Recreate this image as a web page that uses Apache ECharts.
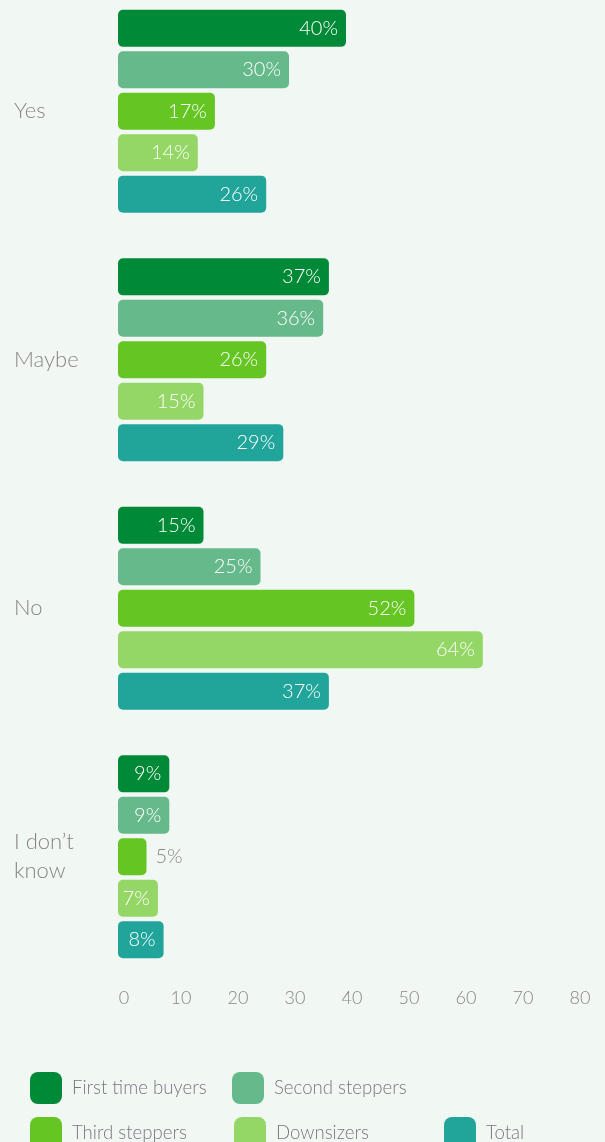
<!DOCTYPE html>
<html>
<head>
<meta charset="utf-8">
<script src="https://cdn.jsdelivr.net/npm/echarts@6/dist/echarts.min.js"></script>
<style>
  html, body { margin: 0; padding: 0; background: #f1f7f3; overflow: hidden; }
  /* the plot starts a little above the page edge, so the first bar sits close to the top */
  #chart { width: 605px; height: 1155px; margin-top: -13px; }
</style>
</head>
<body>
<div id="chart"></div>
<script>
// Survey answers by buyer group (percent)
const categories = ['Yes', 'Maybe', 'No', 'I don’t\nknow'];
const seriesNames = ['First time buyers', 'Second steppers', 'Third steppers', 'Downsizers', 'Total'];
const firstTimeBuyers = [40, 37, 15, 9];
const secondSteppers = [30, 36, 25, 9];
const thirdSteppers = [17, 26, 52, 5];
const downsizers = [14, 15, 64, 7];
const total = [26, 29, 37, 8];
const xTicks = [0, 10, 20, 30, 40, 50, 60, 70, 80];

const values = [firstTimeBuyers, secondSteppers, thirdSteppers, downsizers, total];
const colors = ['#008936', '#66b98a', '#64c523', '#94d766', '#21a59b'];
const fontFamily = 'Lato, "Open Sans", sans-serif';
const fontWeight = 300;
const greyText = '#8a8585';

// Bars too short to hold their label get it outside, in grey
const SHORT = 6;

const series = seriesNames.map((name, i) => ({
  name,
  type: 'bar',
  barWidth: 37,
  barGap: '12%',
  itemStyle: { color: colors[i], borderRadius: 5 },
  data: values[i].map(v => v < SHORT ? {
    value: v,
    label: { position: 'right', distance: 9, color: greyText }
  } : v),
  label: {
    show: true,
    position: 'insideRight',
    distance: 8,
    color: '#ffffff',
    fontSize: 20,
    fontFamily,
    fontWeight,
    formatter: '{c}%'
  }
}));

const legendSlots = [
  { left: 30, top: 1085 },
  { left: 232, top: 1085 },
  { left: 30, top: 1130 },
  { left: 234, top: 1130 },
  { left: 444, top: 1130 }
];

const legends = seriesNames.map((name, i) => ({
  data: [name],
  left: legendSlots[i].left,
  top: legendSlots[i].top,
  padding: 0,
  icon: 'roundRect',
  itemWidth: 32,
  itemHeight: 32,
  itemGap: 0,
  textStyle: { fontSize: 18.6, color: '#797680', fontFamily, fontWeight, padding: [0, 0, 0, 5] },
  selectedMode: false
}));

const chart = echarts.init(document.getElementById('chart'), null, { renderer: 'canvas' });
chart.setOption({
  backgroundColor: '#f1f7f3',
  animation: false,
  color: colors,
  legend: legends,
  grid: { left: 118, right: 31, top: 0, bottom: 161, containLabel: false },
  xAxis: {
    type: 'value',
    min: xTicks[0],
    max: xTicks[xTicks.length - 1],
    interval: 10,
    axisLine: { show: false },
    axisTick: { show: false },
    splitLine: { show: false },
    axisLabel: {
      margin: 8,
      fontSize: 18,
      color: greyText,
      fontFamily,
      fontWeight,
      padding: [0, 0, 0, 12]
    }
  },
  yAxis: {
    type: 'category',
    data: categories,
    inverse: true,
    axisLine: { show: false },
    axisTick: { show: false },
    axisLabel: {
      align: 'left',
      margin: 104,
      fontSize: 22,
      lineHeight: 29,
      color: greyText,
      fontFamily,
      fontWeight,
      padding: [3, 0, 0, 0]
    }
  },
  series
});
</script>
</body>
</html>
